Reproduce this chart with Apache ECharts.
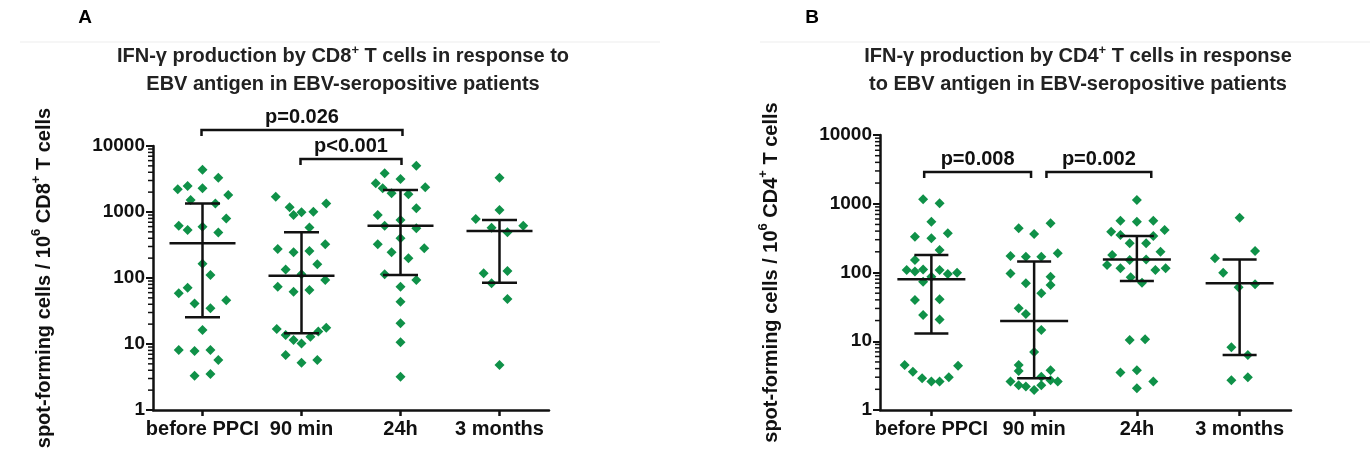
<!DOCTYPE html>
<html><head><meta charset="utf-8">
<script src="https://cdn.jsdelivr.net/npm/echarts@6/dist/echarts.min.js"></script>
<style>html,body{margin:0;padding:0;background:#fff}#c{width:1370px;height:457px}</style>
</head><body><div id="c"></div>
<script>
// ---------- data ----------
const categories = ['before PPCI', '90 min', '24h', '3 months'];
const yTickValues = [1, 10, 100, 1000, 10000];

// Panel A: CD8+ (points as [x position, spot-forming cells])
const cd8Before = [[1.00,4375],[1.16,3310],[0.75,2210],[0.85,2480],[1.00,2290],[1.26,1810],[0.88,1520],[1.13,1350],[1.24,800],[0.76,620],[0.85,535],[1.00,600],[1.16,490],[1.00,165],[1.08,111],[0.76,58.6],[0.85,71],[0.92,41],[1.08,34.7],[1.24,46],[1.00,16.3],[0.76,8.1],[0.92,7.8],[1.08,8.1],[1.16,5.7],[0.92,3.3],[1.08,3.5]];
const cd8Min90 = [[1.74,1706],[1.88,1180],[1.92,900],[2.00,990],[2.12,1010],[2.25,1350],[2.08,580],[1.76,275],[1.92,245],[2.08,257],[2.24,324],[1.84,135],[2.16,161],[2.00,114],[1.76,74],[1.92,62],[2.08,66],[2.24,93],[1.75,16.9],[1.84,13.7],[1.92,11.5],[2.00,10.2],[2.09,12.9],[2.17,15.4],[2.25,17.7],[1.84,6.8],[2.00,5.2],[2.16,5.7]];
const cd8H24 = [[3.16,5030],[2.84,3860],[3.00,3160],[2.75,2720],[2.82,2290],[3.25,2370],[2.91,1920],[3.08,1850],[3.16,1140],[2.77,900],[3.00,757],[2.84,621],[3.16,566],[3.00,399],[2.77,324],[2.91,245],[3.24,282],[3.08,199],[2.84,114],[3.16,93],[3.00,74],[3.00,43.7],[3.00,20.6],[3.00,10.6],[3.00,3.2]];
const cd8Month3 = [[4.00,3310],[4.00,1070],[3.76,783],[3.92,579],[4.08,492],[4.24,621],[3.84,118],[4.08,128],[3.92,83],[4.08,48],[4.00,4.8]];
const cd8Median = [335, 108, 621, 515];
const cd8Lower = [25.4, 14.5, 111, 85];
const cd8Upper = [1350, 492, 2150, 757];
const cd8Brackets = [[0.99, 3.02], [1.99, 3.01]];
const cd8PLabels = ['p=0.026', 'p<0.001'];

// Panel B: CD4+
const cd4Before = [[0.92,1160],[1.08,1015],[1.00,548],[0.84,332],[1.00,314],[1.16,372],[1.08,212],[0.84,152],[0.76,109],[0.84,103],[0.92,111],[1.00,87],[1.08,109],[1.16,95],[1.25,99],[0.92,73.6],[0.84,39.8],[1.08,40.7],[0.92,24.1],[1.08,20.8],[0.74,4.5],[0.82,3.6],[0.91,2.9],[1.00,2.6],[1.08,2.6],[1.17,3.0],[1.26,4.4]];
const cd4Min90 = [[1.85,440],[2.00,363],[2.16,519],[1.77,174],[1.92,170],[2.07,170],[2.23,190],[1.77,97],[1.92,69.6],[2.16,87],[2.16,65.8],[2.07,49.8],[1.85,30.1],[1.92,24.9],[2.07,14.6],[2.00,7.0],[1.85,4.5],[1.85,3.7],[1.77,2.6],[1.85,2.3],[1.92,2.2],[2.00,1.95],[2.07,2.3],[2.16,3.8],[2.16,2.7],[2.23,2.6],[2.07,3.05]];
const cd4H24 = [[3.00,1135],[2.84,567],[3.00,548],[3.16,567],[2.75,392],[3.27,415],[2.84,351],[3.16,340],[2.93,266],[3.09,266],[3.23,201],[2.76,180],[2.93,152],[3.09,155],[2.71,129],[2.84,115],[3.18,109],[3.28,115],[2.94,85],[3.05,71],[2.93,10.4],[3.08,10.7],[2.84,3.5],[3.00,3.8],[3.16,2.6],[3.00,2.07]];
const cd4Month3 = [[4.00,627],[4.15,205],[3.76,161],[3.84,99],[4.15,67.4],[3.99,61],[3.92,8.2],[4.08,6.3],[3.92,2.7],[4.08,3.0]];
const cd4Median = [79.6, 19.7, 155, 69.7];
const cd4Lower = [13.0, 2.9, 75.2, 6.3];
const cd4Upper = [180, 144, 340, 155];
const cd4Brackets = [[0.93, 1.97], [2.12, 3.14]];
const cd4PLabels = ['p=0.008', 'p=0.002'];

// ---------- styling ----------
const FONT = '"Liberation Sans", Arial, Helvetica, sans-serif';
const INK = '#111111';
const GREEN = '#0f9148';
const catPos = categories.map((c, i) => i + 1);
const minorTickValues = [];
[1, 10, 100, 1000].forEach(d => { for (let k = 2; k <= 9; k++) minorTickValues.push(d * k); });

function errRender(capW, medW) {
  return function (params, api) {
    const x = api.value(0);
    const m = api.coord([x, api.value(1)]);
    const lo = api.coord([x, api.value(2)]);
    const hi = api.coord([x, api.value(3)]);
    const st = { stroke: INK, lineWidth: 2.5 };
    return { type: 'group', children: [
      { type: 'line', shape: { x1: lo[0], y1: lo[1], x2: hi[0], y2: hi[1] }, style: st },
      { type: 'line', shape: { x1: lo[0] - capW, y1: lo[1], x2: lo[0] + capW, y2: lo[1] }, style: st },
      { type: 'line', shape: { x1: hi[0] - capW, y1: hi[1], x2: hi[0] + capW, y2: hi[1] }, style: st },
      { type: 'line', shape: { x1: m[0] - medW, y1: m[1], x2: m[0] + medW, y2: m[1] }, style: st }
    ]};
  };
}
function bracketRender(labels, offsets) {
  return function (params, api) {
    const a = api.coord([api.value(0), 1]);
    const b = api.coord([api.value(1), 1]);
    const y = params.coordSys.y + offsets[params.dataIndex];
    const st = { stroke: INK, lineWidth: 2.5, fill: null };
    return { type: 'group', children: [
      { type: 'polyline', shape: { points: [[a[0], y + 6], [a[0], y], [b[0], y], [b[0], y + 6]] }, style: st },
      { type: 'text', style: { text: labels[params.dataIndex], x: (a[0] + b[0]) / 2, y: y - 3,
        textAlign: 'center', textVerticalAlign: 'bottom', align: 'center', verticalAlign: 'bottom',
        font: 'bold 20px ' + FONT, fill: INK } }
    ]};
  };
}
function minorRender(params, api) {
  const p = api.coord([api.value(0), api.value(1)]);
  const x = params.coordSys.x;
  return { type: 'group', children: [
    { type: 'line', shape: { x1: x - 5, y1: p[1], x2: x, y2: p[1] }, style: { stroke: INK, lineWidth: 1.5 } }
  ] };
}

function xAxisFor(gi) {
  return { gridIndex: gi, type: 'value', min: 0.5, max: 4.5, splitLine: { show: false },
    axisLine: { show: true, lineStyle: { color: INK, width: 2.5 } },
    axisTick: { show: true, customValues: catPos, length: 6, lineStyle: { color: INK, width: 2.5 } },
    axisLabel: { customValues: catPos, formatter: v => categories[Math.round(v) - 1], margin: 9,
      color: INK, fontSize: 20, fontWeight: 'bold', fontFamily: FONT } };
}
function yAxisFor(gi, cell, gap) {
  return { gridIndex: gi, type: 'log', logBase: 10, min: 1, max: 10000, splitLine: { show: false },
    name: '{t|spot-forming cells / 10}{s|6}{t| ' + cell + '}{s|+}{t| T cells}', nameLocation: 'middle', nameRotate: 90, nameGap: gap,
    nameTextStyle: { rich: {
      t: { fontSize: 20, fontWeight: 'bold', fontFamily: FONT, color: INK, verticalAlign: 'bottom', lineHeight: 24 },
      s: { fontSize: 13, fontWeight: 'bold', fontFamily: FONT, color: INK, verticalAlign: 'top', lineHeight: 16 } } },
    axisLine: { show: true, lineStyle: { color: INK, width: 2.5 } },
    axisTick: { show: true, length: 7, lineStyle: { color: INK, width: 2 } },
    axisLabel: { color: INK, fontSize: 19, fontWeight: 'bold', fontFamily: FONT, margin: 8,
      formatter: v => String(v) } };
}
function titleText(x, y, l1a, l1b, l2) {
  return { type: 'text', x: x, y: y, style: {
    text: '{t|' + l1a + '}{s|+}{t|' + l1b + '}\n{t|' + l2 + '}',
    rich: { t: { fontSize: 20, fontWeight: 'bold', fontFamily: FONT, fill: '#222', color: '#222', lineHeight: 28, verticalAlign: 'bottom' },
            s: { fontSize: 13, fontWeight: 'bold', fontFamily: FONT, fill: '#222', color: '#222', lineHeight: 16, verticalAlign: 'top', padding: [6, 0, 0, 0] } },
    textAlign: 'center', textVerticalAlign: 'middle', align: 'center', verticalAlign: 'middle' } };
}

const cd8All = cd8Before.concat(cd8Min90, cd8H24, cd8Month3);
const cd4All = cd4Before.concat(cd4Min90, cd4H24, cd4Month3);
const errData = (med, lo, up) => med.map((m, i) => [catPos[i], m, lo[i], up[i]]);
const minorData = minorTickValues.map(v => [1, v]);

const chart = echarts.init(document.getElementById('c'), null, { renderer: 'canvas' });
chart.setOption({
  backgroundColor: '#ffffff',
  animation: false,
  grid: [
    { left: 153, top: 146, width: 396, height: 264 },
    { left: 880, top: 135, width: 411, height: 275 }
  ],
  xAxis: [xAxisFor(0), xAxisFor(1)],
  yAxis: [yAxisFor(0, 'CD8', 99), yAxisFor(1, 'CD4', 99)],
  graphic: [
    { type: 'line', shape: { x1: 20, y1: 42, x2: 660, y2: 42 }, style: { stroke: '#ededed', lineWidth: 1 } },
    { type: 'line', shape: { x1: 760, y1: 42, x2: 1370, y2: 42 }, style: { stroke: '#ededed', lineWidth: 1 } },
    { type: 'text', x: 85, y: 18, style: { text: 'A', font: 'bold 19px ' + FONT, fill: '#000', textAlign: 'center', textVerticalAlign: 'middle', align: 'center', verticalAlign: 'middle' } },
    { type: 'text', x: 812, y: 18, style: { text: 'B', font: 'bold 19px ' + FONT, fill: '#000', textAlign: 'center', textVerticalAlign: 'middle', align: 'center', verticalAlign: 'middle' } },
    titleText(343, 66, 'IFN-γ production by CD8', ' T cells in response to', 'EBV antigen in EBV-seropositive patients'),
    titleText(1078, 66, 'IFN-γ production by CD4', ' T cells in response', 'to EBV antigen in EBV-seropositive patients')
  ],
  series: [
    { type: 'scatter', xAxisIndex: 0, yAxisIndex: 0, data: cd8All, symbol: 'diamond', symbolSize: 10, itemStyle: { color: GREEN, opacity: 1 }, z: 2 },
    { type: 'custom', xAxisIndex: 0, yAxisIndex: 0, data: errData(cd8Median, cd8Lower, cd8Upper), encode: { x: 0, y: [1, 2, 3] }, renderItem: errRender(17.5, 33), z: 3 },
    { type: 'custom', xAxisIndex: 0, yAxisIndex: 0, data: cd8Brackets, encode: { x: [0, 1] }, renderItem: bracketRender(cd8PLabels, [-16, 13]), clip: false, z: 3 },
    { type: 'custom', xAxisIndex: 0, yAxisIndex: 0, data: minorData, encode: { x: 0, y: 1 }, renderItem: minorRender, clip: false, z: 5 },
    { type: 'scatter', xAxisIndex: 1, yAxisIndex: 1, data: cd4All, symbol: 'diamond', symbolSize: 10, itemStyle: { color: GREEN, opacity: 1 }, z: 2 },
    { type: 'custom', xAxisIndex: 1, yAxisIndex: 1, data: errData(cd4Median, cd4Lower, cd4Upper), encode: { x: 0, y: [1, 2, 3] }, renderItem: errRender(17, 34), z: 3 },
    { type: 'custom', xAxisIndex: 1, yAxisIndex: 1, data: cd4Brackets, encode: { x: [0, 1] }, renderItem: bracketRender(cd4PLabels, [37, 37]), clip: false, z: 3 },
    { type: 'custom', xAxisIndex: 1, yAxisIndex: 1, data: minorData, encode: { x: 0, y: 1 }, renderItem: minorRender, clip: false, z: 5 }
  ]
});
</script></body></html>
